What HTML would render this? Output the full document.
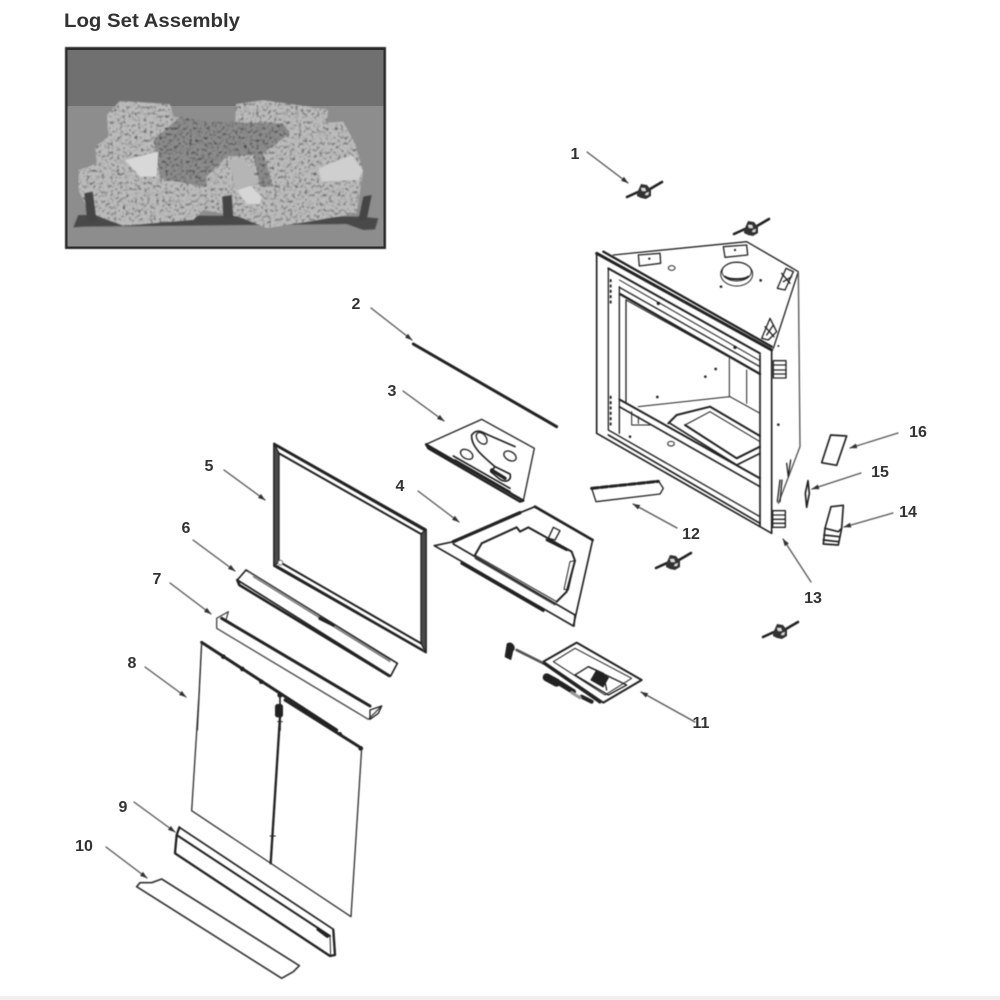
<!DOCTYPE html>
<html>
<head>
<meta charset="utf-8">
<style>
html,body{margin:0;padding:0;background:#fff;width:1000px;height:1000px;overflow:hidden}
svg{display:block}
text{font-family:"Liberation Sans",sans-serif;font-weight:bold;fill:#333}
</style>
</head>
<body>
<svg width="1000" height="1000" viewBox="0 0 1000 1000" xmlns="http://www.w3.org/2000/svg">
<defs>
<filter id="soft" x="-2%" y="-2%" width="104%" height="104%"><feGaussianBlur stdDeviation="0.55"/></filter>
<filter id="softer" x="-5%" y="-5%" width="110%" height="110%"><feGaussianBlur stdDeviation="2.400"/></filter>
<filter id="textblur" x="-5%" y="-20%" width="110%" height="140%"><feGaussianBlur stdDeviation="0.35"/></filter>
<filter id="mottle" x="0" y="0" width="100%" height="100%">
<feTurbulence type="fractalNoise" baseFrequency="0.11" numOctaves="2" seed="11" result="n"/>
<feColorMatrix in="n" type="matrix" values="2.4 0 0 0 -0.25  2.4 0 0 0 -0.25  2.4 0 0 0 -0.25  0 0 0 0 1" result="g"/>
<feComposite in="SourceGraphic" in2="g" operator="arithmetic" k1="1" k2="0" k3="0" k4="0" result="m"/>
<feComposite in="m" in2="SourceAlpha" operator="in"/>
<feGaussianBlur stdDeviation="2"/>
</filter>
<g id="wing">
<path d="M-17,6 L-6,1 M6,-2 L18,-9" stroke="#222" stroke-width="2.600" fill="none"/>
<path d="M-7,2 L-3,-7 L3,-6 L7,-1 L7,5 L2,8 L-3,7 L-7,5 Z" fill="#333" stroke="none"/>
<path d="M-3,-3 L1,-3 L2,0 L-2,0 Z M2,2 L5,1 L4,4 L1,4 Z" fill="#ddd" stroke="none"/>
</g>
<marker id="ah" markerWidth="8" markerHeight="6" refX="7" refY="3" orient="auto" markerUnits="userSpaceOnUse"><path d="M0,0.5 L7.500,3 L0,5.500 Z" fill="#333"/></marker>
</defs>

<rect x="0" y="996" width="1000" height="4" fill="#f0f0f0"/>

<!-- Photo -->
<rect x="65" y="47" width="321" height="202" fill="#2b2b2b" filter="url(#soft)"/>
<rect x="67.500" y="50" width="316" height="196.500" fill="#8d8d8d"/>
<rect x="67.500" y="50" width="316" height="56" fill="#707070"/>
<g transform="translate(50 0) scale(.33333)">
<polygon points="70,682 85,645 930,650 985,655 975,688 940,690 890,672 100,680" fill="#4a4a4a" filter="url(#softer)"/>
<g filter="url(#mottle)">
<polygon points="170,345 210,302 360,312 372,350 470,365 555,378 558,312 640,300 835,328 830,368 880,365 915,430 940,515 930,575 920,640 780,665 650,685 565,650 460,630 430,660 220,678 120,640 85,570 85,510 140,490 135,440 175,410" fill="#bcbcbc"/>
<polygon points="310,420 390,350 470,365 700,370 720,400 640,460 670,560 460,560 330,535 320,470" fill="#8c8c8c"/>
<polygon points="470,530 530,470 610,465 630,560 640,620 570,640 500,630 470,590" fill="#bcbcbc"/>
</g>
<path d="M225,480 L325,455 L320,530 L270,530 Z" fill="#d8d8d8" filter="url(#softer)"/>
<path d="M805,505 L905,465 L938,510 L925,540 L815,545 Z" fill="#cfcfcf" filter="url(#softer)"/>
<path d="M560,570 L600,555 L635,590 L630,612 L590,612 Z" fill="#d6d6d6" filter="url(#softer)"/>
<path d="M535,480 L580,475 L625,550 L560,570 Z" fill="#b5b5b5" filter="url(#softer)"/>
<g fill="#454545" filter="url(#softer)">
<path d="M103,580 L128,575 L140,665 L112,665 Z"/>
<path d="M517,590 L545,585 L550,655 L520,655 Z"/>
<path d="M940,590 L965,585 L950,660 L925,660 Z"/>
</g>
</g>

<g filter="url(#soft)" fill="none" stroke="#222" stroke-linejoin="round" stroke-linecap="round">

<!-- Firebox body: zoom 2 coordinates -->
<g transform="translate(570 140) scale(.33333)" stroke-width="4">
<polyline points="130,345 530,305 685,395 610,625"/>
<path d="M685,395 L690,920 L625,1090" stroke="#555"/>
<path d="M80,340 L605,630" stroke-width="9"/>
<path d="M100,335 L605,620" stroke-width="7"/>
<path d="M80,340 L80,880 L605,1180 L605,630" stroke-width="5"/>
<path d="M570,645 L570,1160" stroke-width="5"/>
<path d="M115,385 L115,870 L570,1130"/>
<path d="M115,385 L570,640" stroke-width="6"/>
<path d="M148,420 L570,662" stroke-width="3"/>
<path d="M148,442 L570,680" stroke-width="4"/>
<path d="M150,462 L570,702" stroke-width="7"/>
<path d="M148,440 L148,880" stroke-width="4"/>
<path d="M168,480 L168,785" stroke-width="4"/>
<path d="M168,480 L475,650" stroke-width="3"/>
<path d="M148,778 L570,1015" stroke-width="6"/>
<path d="M148,800 L570,1040" stroke-width="5"/>
<path d="M115,885 L570,1150" stroke-width="5"/>
<path d="M205,800 L480,770 L570,820" stroke-width="3"/>
<path d="M478,655 L478,770 M530,690 L530,790" stroke-width="3"/>
<path d="M185,815 L185,855 L240,855 M205,830 L205,850" stroke-width="3"/>
<path d="M295,850 L320,825 L420,800 L570,888" stroke-width="6"/>
<path d="M345,855 L420,815 L570,905" stroke-width="3"/>
<path d="M345,855 L500,955 L570,920" stroke-width="6"/>
<path d="M300,850 L500,975 L570,940" stroke-width="5"/>
<path d="M205,345 L270,340 L272,370 L208,378 Z M460,320 L530,315 L533,345 L465,352 Z" stroke-width="4"/>
<ellipse cx="500" cy="402" rx="48" ry="36" stroke-width="3"/>
<ellipse cx="500" cy="395" rx="44" ry="28" stroke-width="3"/>
<path d="M465,410 C480,420 520,420 535,410" stroke-width="6"/>
<ellipse cx="305" cy="384" rx="10" ry="7" stroke-width="3"/>
<ellipse cx="303" cy="911" rx="10" ry="7" stroke-width="3"/>
<g stroke-width="4">
<path d="M622,445 L648,385 L670,395 L645,450 Z M635,400 L660,430 M640,425 L665,410"/>
<path d="M575,595 L600,535 L620,575 L595,600 Z M585,560 L612,590 M590,585 L610,555"/>
<rect x="610" y="662" width="38" height="52"/>
<path d="M610,675 H648 M610,690 H648 M610,702 H648"/>
<rect x="608" y="1112" width="38" height="50"/>
<path d="M608,1125 H646 M608,1138 H646 M608,1150 H646"/>
<path d="M630,1020 L622,1085 M636,1020 L630,1085" />
<path d="M650,970 L655,1010 L662,960"/>
</g>
<g stroke-width="6" stroke-dasharray="4 12">
<path d="M122,420 L122,490"/><path d="M122,770 L122,860"/>
</g>
<g fill="#222" stroke="none">
<circle cx="238" cy="356" r="3.500"/><circle cx="495" cy="330" r="3.500"/><circle cx="453" cy="440" r="4"/><circle cx="572" cy="421" r="4"/><circle cx="437" cy="687" r="4"/><circle cx="406" cy="710" r="4"/><circle cx="262" cy="771" r="4"/><circle cx="625" cy="854" r="4"/><circle cx="180" cy="890" r="4"/><circle cx="625" cy="618" r="3"/><circle cx="265" cy="490" r="5"/><circle cx="495" cy="622" r="5"/>
</g>
<!-- 12 -->
<path d="M65,1045 L265,1022 L280,1045 L270,1062 L78,1085 Z" stroke-width="4"/>
<path d="M65,1045 L265,1024" stroke-width="9" stroke-dasharray="20 8"/>
<!-- 16 -->
<path d="M782,885 L830,888 L800,976 L755,968 Z" stroke-width="5"/>
<!-- 15 -->
<path d="M714,1022 L718,1060 L710,1102 L706,1060 Z" stroke-width="5"/>
<!-- 14 -->
<path d="M783,1100 L820,1096 L815,1165 L805,1215 L760,1212 L765,1165 Z" stroke-width="5"/>
<path d="M765,1165 L805,1175 M762,1185 L808,1190 M760,1200 L806,1205 M815,1165 L805,1175" stroke-width="5"/>
</g>

<!-- Parts 2, 3, 4, 11: zoom 3 coordinates -->
<g transform="translate(400 320) scale(.33333)" stroke-width="4">
<path d="M40,72 L470,320" stroke-width="9"/>
<!-- 3 -->
<path d="M78,373 L245,298 L403,385 L370,542"/>
<path d="M78,373 L85,385 L360,545 L370,542 L78,373" stroke-width="7"/>
<path d="M160,408 L330,505 M165,420 L330,515" stroke-width="5"/>
<path d="M215,345 C230,325 245,335 265,345 L345,380 M215,345 C212,380 250,410 285,440 L330,462 C335,480 320,490 300,478 L272,455 L285,440" stroke-width="5"/>
<ellipse cx="200" cy="403" rx="20" ry="13" transform="rotate(30 200 403)" stroke-width="4"/>
<ellipse cx="330" cy="408" rx="20" ry="13" transform="rotate(30 330 408)" stroke-width="4"/>
<ellipse cx="245" cy="355" rx="20" ry="13" transform="rotate(50 245 355)" stroke-width="4"/>
<path d="M275,450 L315,475" stroke-width="10"/>
<!-- 4 -->
<path d="M103,677 L160,665 L360,578 L405,560 L578,660 L520,918 L103,677" stroke-width="5"/>
<path d="M160,665 L360,578" stroke-width="10" stroke-dasharray="14 3"/>
<path d="M405,560 L578,660" stroke-width="8"/>
<path d="M160,672 L525,885 L522,918" stroke-width="5"/>
<path d="M185,730 L430,872" stroke-width="8"/>
<path d="M225,705 L245,670 L350,622 L360,635 L385,622 L515,695 L525,722 L500,815 L470,845" stroke-width="6"/>
<path d="M225,705 L470,845 M225,715 L465,855" stroke-width="3"/>
<path d="M510,725 L525,722 L505,810 L492,808 Z" stroke-width="3"/>
<path d="M440,660 L500,690" stroke-width="7"/>
<path d="M460,622 L480,632 L465,660 L445,655 Z" stroke-width="4"/>
<!-- 11 -->
<path d="M430,1025 L530,968 L725,1080 L610,1148 Z" stroke-width="6"/>
<path d="M460,1025 L525,985 L695,1075 L615,1125 Z" stroke-width="3"/>
<path d="M525,1065 L565,1040 L680,1095 L625,1125 Z" stroke-width="4"/>
<path d="M565,1040 L610,1060 L620,1110" stroke-width="4"/>
<rect x="575" y="1060" width="45" height="35" fill="#222" stroke="none" transform="rotate(30 600 1080)"/>
<path d="M350,990 L430,1030" stroke-width="8" stroke="#555"/>
<path d="M322,972 C335,962 350,985 338,992 L332,1018 L316,1010 Z" fill="#222"/>
<path d="M440,1072 L470,1088" stroke-width="24"/>
<path d="M480,1090 L520,1115" stroke-width="16"/>
<path d="M545,1130 L575,1145" stroke-width="12"/>
<path d="M515,1118 L540,1133" stroke="#999" stroke-width="9"/>
<path d="M430,1030 L600,1148" stroke-width="6"/>
</g>

<!-- Parts 5, 6, 7: zoom 4 coordinates -->
<g transform="translate(120 430) scale(.33333)" stroke-width="4">
<path d="M462,40 L918,298 L918,668 L462,408 Z" stroke-width="5"/>
<path d="M462,40 L477,70 L477,395 L462,408 Z M918,298 L903,312 L903,640 L918,668 Z" fill="#4c4c4c"/>
<path d="M477,70 L903,312" stroke-width="6"/>
<path d="M470,48 L912,300" stroke-width="6"/>
<path d="M477,395 L903,640" stroke-width="6"/>
<path d="M470,408 L908,660" stroke-width="6"/>
<circle cx="481" cy="398" r="7" stroke="#555" stroke-width="3" fill="#fff"/>
<!-- 6 -->
<path d="M378,420 L832,700 L812,738 L352,450 Z" stroke-width="5"/>
<path d="M358,465 L352,450 M358,465 L808,738" stroke-width="8"/>
<path d="M385,425 L810,690 M400,440 L810,695" stroke-width="3" stroke="#555"/>
<path d="M600,565 L640,585" stroke-width="10"/>
<!-- 7 -->
<path d="M290,565 L325,545 L318,570 M290,565 L290,595 L745,868 L785,828" stroke-width="4" stroke="#444"/>
<path d="M305,565 L750,828" stroke-width="9"/>
<path d="M750,840 L785,828 L775,850 L750,868 Z" stroke-width="4"/>
<!-- 8 top -->
<path d="M245,637 L650,900" stroke-width="9"/>
<path d="M245,637 L232,900" stroke-width="4"/>
<path d="M480,795 L480,900" stroke-width="5"/>
<rect x="467" y="822" width="20" height="40" rx="5" fill="#222" stroke="none"/>
<g fill="#222" stroke="none">
<circle cx="310" cy="680" r="7"/><circle cx="367" cy="717" r="7"/><circle cx="424" cy="755" r="7"/><circle cx="480" cy="795" r="8"/><circle cx="545" cy="835" r="7"/>
</g>
</g>

<!-- Parts 8, 9, 10: zoom 5 coordinates -->
<g transform="translate(120 700) scale(.33333)" stroke-width="4">
<path d="M495,0 L725,145" stroke-width="9"/>
<path d="M236,0 L215,332 L693,650 L725,145" stroke="#333"/>
<path d="M480,50 L452,490" stroke-width="7"/>
<path d="M473,65 H487 M450,408 H466" stroke-width="3"/>
<rect x="465" y="15" width="24" height="35" rx="5" fill="#222" stroke="none"/>
<circle cx="545" cy="28" r="6" fill="#222" stroke="none"/><circle cx="605" cy="66" r="6" fill="#222" stroke="none"/><circle cx="660" cy="102" r="6" fill="#222" stroke="none"/><circle cx="722" cy="145" r="7" fill="#222" stroke="none"/>
<!-- 9 -->
<path d="M178,382 L640,688" stroke-width="5"/>
<path d="M170,405 L630,708" stroke-width="6"/>
<path d="M178,382 L170,405 L165,460 L630,768 L645,765 L640,690" stroke-width="7"/>
<path d="M595,688 L622,708" stroke-width="11"/>
<path d="M630,708 L632,768 M640,720 L645,745" stroke-width="3"/>
<!-- 10 -->
<path d="M50,560 L60,548 L95,548 L125,537 L538,797 L520,815 L485,835 Z" stroke="#333" stroke-width="5"/>
</g>

<!-- Wing brackets -->
<use href="#wing" x="644" y="191"/>
<use href="#wing" x="751" y="228"/>
<use href="#wing" x="673" y="562"/>
<use href="#wing" x="780" y="631"/>

<!-- Leader arrows -->
<g stroke="#555" stroke-width="1.300" fill="none">
<path d="M587,152 L628,183" marker-end="url(#ah)"/>
<path d="M371,308 L412,340" marker-end="url(#ah)"/>
<path d="M403,391 L444,421" marker-end="url(#ah)"/>
<path d="M418,491 L459,522" marker-end="url(#ah)"/>
<path d="M224,470 L265,500" marker-end="url(#ah)"/>
<path d="M193,540 L235,571" marker-end="url(#ah)"/>
<path d="M170,583 L211,614" marker-end="url(#ah)"/>
<path d="M145,667 L186,697" marker-end="url(#ah)"/>
<path d="M134,802 L175,832" marker-end="url(#ah)"/>
<path d="M106,847 L147,878" marker-end="url(#ah)"/>
<path d="M695,722 L641,692" marker-end="url(#ah)"/>
<path d="M677,528 L633,504" marker-end="url(#ah)"/>
<path d="M811,582 L783,539" marker-end="url(#ah)"/>
<path d="M893,513 L844,527" marker-end="url(#ah)"/>
<path d="M861,473 L812,489" marker-end="url(#ah)"/>
<path d="M898,433 L850,448" marker-end="url(#ah)"/>
</g>
</g>

<!-- Labels -->
<g font-size="16" fill="#2a2a2a" text-anchor="middle" filter="url(#textblur)">
<text x="575" y="159">1</text>
<text x="356" y="309">2</text>
<text x="392" y="396">3</text>
<text x="400" y="491">4</text>
<text x="209" y="471">5</text>
<text x="186" y="533">6</text>
<text x="157" y="584">7</text>
<text x="132" y="668">8</text>
<text x="123" y="812">9</text>
<text x="84" y="851">10</text>
<text x="701" y="728">11</text>
<text x="691" y="539">12</text>
<text x="813" y="603">13</text>
<text x="908" y="517">14</text>
<text x="880" y="477">15</text>
<text x="918" y="437">16</text>
</g>
<text x="64" y="27" font-size="19" fill="#3a3a3a" textLength="176" lengthAdjust="spacingAndGlyphs" filter="url(#textblur)">Log Set Assembly</text>
</svg>
</body>
</html>
